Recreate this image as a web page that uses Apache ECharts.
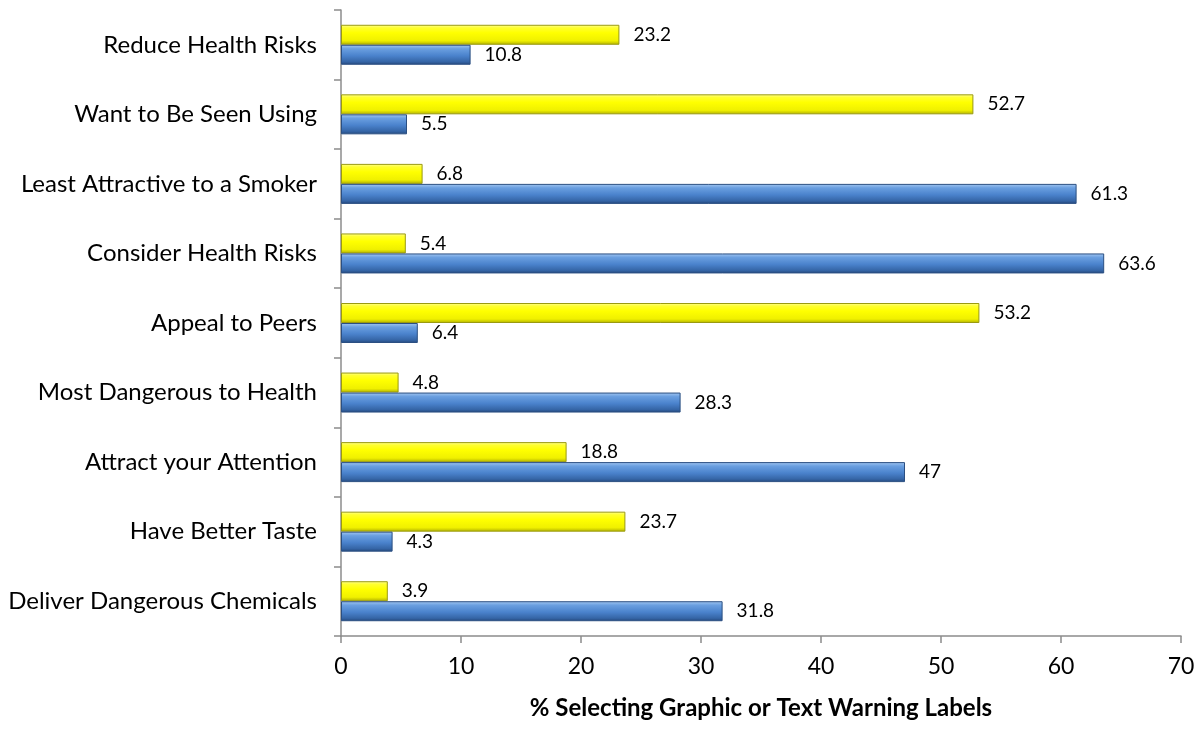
<!DOCTYPE html>
<html><head><meta charset="utf-8">
<script src="https://cdn.jsdelivr.net/npm/echarts@6/dist/echarts.min.js"></script>
<style>html,body{margin:0;padding:0;background:#fff}#c{width:1200px;height:729px}</style>
</head><body><div id="c"></div>
<script>
var categories = ["Deliver Dangerous Chemicals","Have Better Taste","Attract your Attention","Most Dangerous to Health","Appeal to Peers","Consider Health Risks","Least Attractive to a Smoker","Want to Be Seen Using","Reduce Health Risks"];
var blueValues = [31.8, 4.3, 47, 28.3, 6.4, 63.6, 61.3, 5.5, 10.8];
var yellowValues = [3.9, 23.7, 18.8, 4.8, 53.2, 5.4, 6.8, 52.7, 23.2];
var xTicks = [0, 10, 20, 30, 40, 50, 60, 70];
var xTitle = "% Selecting Graphic or Text Warning Labels";

var font = "Lato, 'Open Sans', sans-serif";
var chart = echarts.init(document.getElementById('c'), null, {renderer:'canvas'});
function grad(stops){
  return new echarts.graphic.LinearGradient(0,0,0,1,stops.map(function(s){return {offset:s[0],color:s[1]};}));
}
chart.setOption({
  animation:false,
  backgroundColor:'#fff',
  grid:{left:341,right:19,top:10,bottom:93,containLabel:false},
  xAxis:{type:'value',min:xTicks[0],max:xTicks[xTicks.length-1],interval:10,
    axisLine:{show:true,lineStyle:{color:'#8c8c8c',width:1.5}},
    axisTick:{show:true,length:7,lineStyle:{color:'#8c8c8c',width:1.5}},
    splitLine:{show:false},
    axisLabel:{color:'#000',fontSize:23,fontFamily:font,margin:19},
    name:xTitle,nameLocation:'middle',nameGap:60,
    nameTextStyle:{color:'#000',fontSize:24,fontWeight:'bold',fontFamily:font}},
  yAxis:{type:'category',data:categories,
    axisLine:{show:true,lineStyle:{color:'#8c8c8c',width:1.5}},
    axisTick:{show:true,length:7,lineStyle:{color:'#8c8c8c',width:1.5}},
    axisLabel:{color:'#000',fontSize:24,fontFamily:font,margin:24}},
  series:[
    {name:'Text',type:'bar',data:yellowValues,barWidth:20,barGap:'0%',
     itemStyle:{color:grad([[0,'#ffff9a'],[0.15,'#ffff30'],[0.4,'#ffff00'],[0.8,'#f0f000'],[1,'#b0b000']]),borderColor:'#9a9a10',borderWidth:1},
     label:{show:true,position:'right',distance:14,color:'#000',fontSize:19,fontFamily:font}},
    {name:'Graphic',type:'bar',data:blueValues,barWidth:20,barGap:'0%',
     itemStyle:{color:grad([[0,'#a5c8f2'],[0.2,'#6a9fe0'],[0.55,'#4a82cc'],[0.85,'#3565a6'],[1,'#24477a']]),borderColor:'#2b4f82',borderWidth:1},
     label:{show:true,position:'right',distance:14,color:'#000',fontSize:19,fontFamily:font}}
  ]
});
</script></body></html>
